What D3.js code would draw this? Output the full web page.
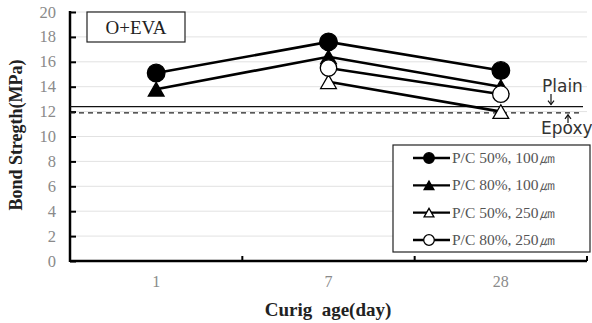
<!DOCTYPE html>
<html><head><meta charset="utf-8">
<script src="https://cdn.jsdelivr.net/npm/d3@7"></script>
<style>body{margin:0;background:#fff}svg{display:block}</style>
</head><body>
<svg id="c" width="592" height="323"></svg>
<script>
const categories = ["1", "7", "28"];
const yTicks = [0, 2, 4, 6, 8, 10, 12, 14, 16, 18, 20];
const seriesNames = ["P/C 50%, 100㎛", "P/C 80%, 100㎛", "P/C 50%, 250㎛", "P/C 80%, 250㎛"];
const s1 = [15.1, 17.6, 15.3];
const s2 = [13.8, 16.4, 14.0];
const s3 = [null, 14.4, 12.0];
const s4 = [null, 15.5, 13.4];
const plainValue = 12.4;
const epoxyValue = 11.9;

const svg = d3.select("#c");
const L = 70, R = 587, T = 12, B = 261;
const x = d3.scaleBand().domain(categories).range([L, R]);
const y = d3.scaleLinear().domain([0, 20]).range([B, T]);
const serif = "'Liberation Serif','Times New Roman',serif";

// grid
svg.append("g").selectAll("line").data(yTicks.filter(d => d > 0)).join("line")
  .attr("x1", L).attr("x2", R).attr("y1", d => y(d)).attr("y2", d => y(d))
  .attr("stroke", "#e2e2e2").attr("stroke-width", 1);

// y axis
const ya = svg.append("g").attr("transform", `translate(${L},0)`)
  .call(d3.axisRight(y).tickValues(yTicks).tickSize(6).tickFormat(""));
ya.select(".domain").remove();
ya.selectAll("line").attr("stroke", "#000").attr("stroke-width", 2);
svg.append("line").attr("x1", L).attr("x2", L).attr("y1", T - 1).attr("y2", B + 1)
  .attr("stroke", "#000").attr("stroke-width", 2.5);
svg.append("g").selectAll("text").data(yTicks).join("text")
  .attr("x", 56).attr("y", d => y(d) + 5.5).attr("text-anchor", "end")
  .attr("font-family", serif).attr("font-size", 16.5).attr("fill", "#8a8a8a")
  .text(d => d);

// x axis
svg.append("line").attr("x1", L).attr("x2", R).attr("y1", B).attr("y2", B)
  .attr("stroke", "#000").attr("stroke-width", 2.5);
const bounds = categories.map(c => x(c) + x.bandwidth());
svg.append("g").selectAll("line").data(bounds).join("line")
  .attr("x1", d => d).attr("x2", d => d).attr("y1", B).attr("y2", B - 5)
  .attr("stroke", "#000").attr("stroke-width", 2);
svg.append("g").selectAll("text").data(categories).join("text")
  .attr("x", d => x(d) + x.bandwidth() / 2).attr("y", 287).attr("text-anchor", "middle")
  .attr("font-family", serif).attr("font-size", 16).attr("fill", "#8a8a8a")
  .text(d => d);

// axis titles
svg.append("text").attr("x", 328).attr("y", 316).attr("text-anchor", "middle")
  .attr("font-family", serif).attr("font-size", 19).attr("font-weight", "bold").attr("fill", "#222")
  .attr("xml:space", "preserve").text("Curig  age(day)");
svg.append("text").attr("transform", "translate(22,135) rotate(-90)").attr("text-anchor", "middle")
  .attr("font-family", serif).attr("font-size", 18).attr("font-weight", "bold").attr("fill", "#222")
  .text("Bond Stregth(MPa)");

// reference lines
svg.append("line").attr("x1", L).attr("x2", 583).attr("y1", y(plainValue)).attr("y2", y(plainValue))
  .attr("stroke", "#111").attr("stroke-width", 1.3);
svg.append("line").attr("x1", L).attr("x2", 583).attr("y1", y(epoxyValue)).attr("y2", y(epoxyValue))
  .attr("stroke", "#222").attr("stroke-width", 1.3).attr("stroke-dasharray", "5,4");
const sans = "'DejaVu Sans','Noto Sans',sans-serif";
svg.append("text").attr("x", 542).attr("y", 92).attr("font-family", sans).attr("font-size", 17)
  .attr("fill", "#333").text("Plain");
svg.append("text").attr("x", 541).attr("y", 134).attr("font-family", sans).attr("font-size", 17)
  .attr("fill", "#333").text("Epoxy");
function arrow(x0, y0, y1) {
  svg.append("line").attr("x1", x0).attr("x2", x0).attr("y1", y0).attr("y2", y1).attr("stroke", "#111").attr("stroke-width", 1.2);
  const d = y1 > y0 ? 1 : -1;
  svg.append("path").attr("d", `M${x0 - 3},${y1 - 4 * d}L${x0},${y1}L${x0 + 3},${y1 - 4 * d}`)
    .attr("fill", "none").attr("stroke", "#111").attr("stroke-width", 1.2);
}
arrow(551, 94, y(plainValue) - 2);
arrow(568, 123, y(epoxyValue) + 2);

// title box
svg.append("rect").attr("x", 87).attr("y", 12).attr("width", 98).attr("height", 30)
  .attr("fill", "#fff").attr("stroke", "#222").attr("stroke-width", 1.2);
svg.append("text").attr("x", 136).attr("y", 34).attr("text-anchor", "middle")
  .attr("font-family", serif).attr("font-size", 19).attr("fill", "#222").text("O+EVA");

// series (drawing order: open tri, filled tri, open circle, filled circle)
const series = [
  {name: seriesNames[2], vals: s3, shape: "tri", fill: "#fff"},
  {name: seriesNames[1], vals: s2, shape: "tri", fill: "#000"},
  {name: seriesNames[3], vals: s4, shape: "circ", fill: "#fff"},
  {name: seriesNames[0], vals: s1, shape: "circ", fill: "#000"}
];
const cx = c => x(c) + x.bandwidth() / 2;
const line = d3.line().defined(d => d.v != null).x(d => cx(d.c)).y(d => y(d.v));
function marker(g, shape, fill, px, py, r) {
  if (shape === "circ") {
    g.append("circle").attr("cx", px).attr("cy", py).attr("r", r)
      .attr("fill", fill).attr("stroke", "#000").attr("stroke-width", 1.3);
  } else {
    const side = r * 1.85;
    const s = d3.symbol().type(d3.symbolTriangle).size(side * side * Math.sqrt(3) / 4);
    const h = side * Math.sqrt(3) / 2;
    g.append("path").attr("d", s()).attr("transform", `translate(${px},${py + h / 6})`)
      .attr("fill", fill).attr("stroke", "#000").attr("stroke-width", 1.3);
  }
}
series.forEach(s => {
  const pts = categories.map((c, i) => ({c, v: s.vals[i]}));
  svg.append("path").datum(pts).attr("d", line).attr("fill", "none")
    .attr("stroke", "#000").attr("stroke-width", 2.6);
});
series.forEach(s => {
  const g = svg.append("g");
  const r = s.shape === "circ" ? (s.fill === "#000" ? 8.8 : 8.2) : 8.5;
  categories.forEach((c, i) => {
    if (s.vals[i] != null) marker(g, s.shape, s.fill, cx(c), y(s.vals[i]), r);
  });
});

// legend
svg.append("rect").attr("x", 393).attr("y", 145).attr("width", 197).attr("height", 107)
  .attr("fill", "#fff").attr("stroke", "#222").attr("stroke-width", 1.2);
const legendOrder = [
  {name: seriesNames[0], shape: "circ", fill: "#000"},
  {name: seriesNames[1], shape: "tri", fill: "#000"},
  {name: seriesNames[2], shape: "tri", fill: "#fff"},
  {name: seriesNames[3], shape: "circ", fill: "#fff"}
];
const ly = d3.scalePoint().domain(legendOrder.map(d => d.name)).range([158, 240]);
legendOrder.forEach(d => {
  const g = svg.append("g");
  const yy = ly(d.name);
  g.append("line").attr("x1", 413).attr("x2", 450).attr("y1", yy).attr("y2", yy)
    .attr("stroke", "#000").attr("stroke-width", 2.4);
  marker(g, d.shape, d.fill, 429, yy, 5.3);
  g.append("text").attr("x", 452).attr("y", yy + 5).attr("font-family", serif)
    .attr("font-size", 15.5).attr("fill", "#555").text(d.name);
});
</script>
</body></html>
